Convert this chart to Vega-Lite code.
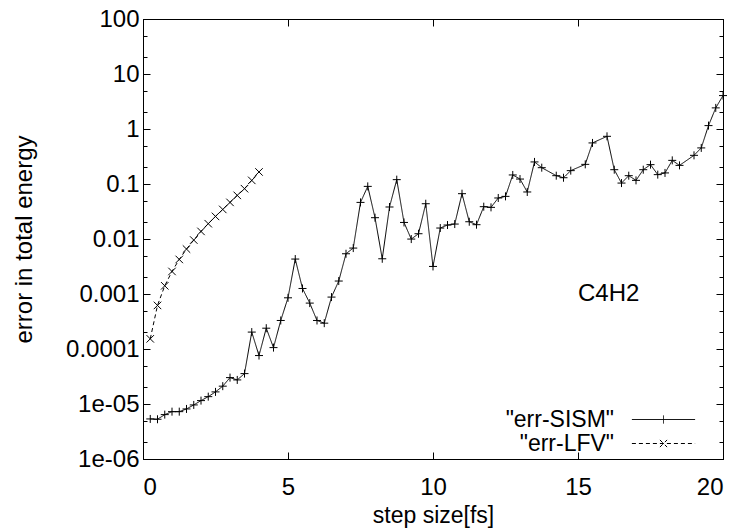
{
  "$schema": "https://vega.github.io/schema/vega-lite/v6.json",
  "width": 580,
  "height": 440,
  "autosize": {"type": "none"},
  "padding": {"left": 143, "top": 19, "right": 14, "bottom": 70},
  "config": {
    "view": {"stroke": "black", "strokeWidth": 1},
    "font": "Liberation Sans",
    "axis": {
      "grid": false,
      "domainColor": "black",
      "tickColor": "black",
      "labelColor": "black",
      "titleColor": "black",
      "labelFont": "Liberation Sans",
      "titleFont": "Liberation Sans",
      "labelFontSize": 24,
      "titleFontSize": 24,
      "titleFontWeight": "normal"
    }
  },
  "datasets": {
    "curves": [
      {"x": 0.25, "y": 5.35e-6, "series": "err-SISM"},
      {"x": 0.5, "y": 5.28e-6, "series": "err-SISM"},
      {"x": 0.75, "y": 6.41e-6, "series": "err-SISM"},
      {"x": 1.0, "y": 7.26e-6, "series": "err-SISM"},
      {"x": 1.25, "y": 7.26e-6, "series": "err-SISM"},
      {"x": 1.5, "y": 8.13e-6, "series": "err-SISM"},
      {"x": 1.75, "y": 9.62e-6, "series": "err-SISM"},
      {"x": 2.0, "y": 1.153e-5, "series": "err-SISM"},
      {"x": 2.25, "y": 1.36e-5, "series": "err-SISM"},
      {"x": 2.5, "y": 1.66e-5, "series": "err-SISM"},
      {"x": 2.75, "y": 2.11e-5, "series": "err-SISM"},
      {"x": 3.0, "y": 3.02e-5, "series": "err-SISM"},
      {"x": 3.25, "y": 2.74e-5, "series": "err-SISM"},
      {"x": 3.5, "y": 3.57e-5, "series": "err-SISM"},
      {"x": 3.75, "y": 2.03e-4, "series": "err-SISM"},
      {"x": 4.0, "y": 7.6e-5, "series": "err-SISM"},
      {"x": 4.25, "y": 2.39e-4, "series": "err-SISM"},
      {"x": 4.5, "y": 1.06e-4, "series": "err-SISM"},
      {"x": 4.75, "y": 3.3e-4, "series": "err-SISM"},
      {"x": 5.0, "y": 8.53e-4, "series": "err-SISM"},
      {"x": 5.25, "y": 4.32e-3, "series": "err-SISM"},
      {"x": 5.5, "y": 1.26e-3, "series": "err-SISM"},
      {"x": 5.75, "y": 6.83e-4, "series": "err-SISM"},
      {"x": 6.0, "y": 3.3e-4, "series": "err-SISM"},
      {"x": 6.25, "y": 2.95e-4, "series": "err-SISM"},
      {"x": 6.5, "y": 8.79e-4, "series": "err-SISM"},
      {"x": 6.75, "y": 1.72e-3, "series": "err-SISM"},
      {"x": 7.0, "y": 5.39e-3, "series": "err-SISM"},
      {"x": 7.25, "y": 6.84e-3, "series": "err-SISM"},
      {"x": 7.5, "y": 0.0463, "series": "err-SISM"},
      {"x": 7.75, "y": 0.0905, "series": "err-SISM"},
      {"x": 8.0, "y": 0.0244, "series": "err-SISM"},
      {"x": 8.25, "y": 4.37e-3, "series": "err-SISM"},
      {"x": 8.5, "y": 0.0382, "series": "err-SISM"},
      {"x": 8.75, "y": 0.12, "series": "err-SISM"},
      {"x": 9.0, "y": 0.02, "series": "err-SISM"},
      {"x": 9.25, "y": 9.97e-3, "series": "err-SISM"},
      {"x": 9.5, "y": 0.01247, "series": "err-SISM"},
      {"x": 9.75, "y": 0.0438, "series": "err-SISM"},
      {"x": 10.0, "y": 3.17e-3, "series": "err-SISM"},
      {"x": 10.25, "y": 0.01582, "series": "err-SISM"},
      {"x": 10.5, "y": 0.01795, "series": "err-SISM"},
      {"x": 10.75, "y": 0.0187, "series": "err-SISM"},
      {"x": 11.0, "y": 0.0667, "series": "err-SISM"},
      {"x": 11.25, "y": 0.0206, "series": "err-SISM"},
      {"x": 11.5, "y": 0.0182, "series": "err-SISM"},
      {"x": 11.75, "y": 0.0387, "series": "err-SISM"},
      {"x": 12.0, "y": 0.0376, "series": "err-SISM"},
      {"x": 12.25, "y": 0.0557, "series": "err-SISM"},
      {"x": 12.5, "y": 0.0596, "series": "err-SISM"},
      {"x": 12.75, "y": 0.146, "series": "err-SISM"},
      {"x": 13.0, "y": 0.123, "series": "err-SISM"},
      {"x": 13.25, "y": 0.0716, "series": "err-SISM"},
      {"x": 13.5, "y": 0.252, "series": "err-SISM"},
      {"x": 13.75, "y": 0.198, "series": "err-SISM"},
      {"x": 14.25, "y": 0.1417, "series": "err-SISM"},
      {"x": 14.5, "y": 0.13, "series": "err-SISM"},
      {"x": 14.75, "y": 0.175, "series": "err-SISM"},
      {"x": 15.25, "y": 0.2276, "series": "err-SISM"},
      {"x": 15.5, "y": 0.558, "series": "err-SISM"},
      {"x": 16.0, "y": 0.736, "series": "err-SISM"},
      {"x": 16.25, "y": 0.182, "series": "err-SISM"},
      {"x": 16.5, "y": 0.104, "series": "err-SISM"},
      {"x": 16.75, "y": 0.1417, "series": "err-SISM"},
      {"x": 17.0, "y": 0.1164, "series": "err-SISM"},
      {"x": 17.25, "y": 0.182, "series": "err-SISM"},
      {"x": 17.5, "y": 0.225, "series": "err-SISM"},
      {"x": 17.75, "y": 0.148, "series": "err-SISM"},
      {"x": 18.0, "y": 0.159, "series": "err-SISM"},
      {"x": 18.25, "y": 0.269, "series": "err-SISM"},
      {"x": 18.5, "y": 0.218, "series": "err-SISM"},
      {"x": 19.0, "y": 0.332, "series": "err-SISM"},
      {"x": 19.25, "y": 0.453, "series": "err-SISM"},
      {"x": 19.5, "y": 1.153, "series": "err-SISM"},
      {"x": 19.75, "y": 2.42, "series": "err-SISM"},
      {"x": 20.0, "y": 4.05, "series": "err-SISM"},
      {"x": 0.25, "y": 1.53e-4, "series": "err-LFV"},
      {"x": 0.5, "y": 6.2e-4, "series": "err-LFV"},
      {"x": 0.75, "y": 1.41e-3, "series": "err-LFV"},
      {"x": 1.0, "y": 2.57e-3, "series": "err-LFV"},
      {"x": 1.25, "y": 4.25e-3, "series": "err-LFV"},
      {"x": 1.5, "y": 6.56e-3, "series": "err-LFV"},
      {"x": 1.75, "y": 9.57e-3, "series": "err-LFV"},
      {"x": 2.0, "y": 0.01374, "series": "err-LFV"},
      {"x": 2.25, "y": 0.01897, "series": "err-LFV"},
      {"x": 2.5, "y": 0.02575, "series": "err-LFV"},
      {"x": 2.75, "y": 0.0345, "series": "err-LFV"},
      {"x": 3.0, "y": 0.0463, "series": "err-LFV"},
      {"x": 3.25, "y": 0.0621, "series": "err-LFV"},
      {"x": 3.5, "y": 0.0822, "series": "err-LFV"},
      {"x": 3.75, "y": 0.1164, "series": "err-LFV"},
      {"x": 4.0, "y": 0.1656, "series": "err-LFV"}
    ],
    "labels": [
      {"x": 15, "y": 0.001, "text": "C4H2"}
    ]
  },
  "layer": [
    {
      "data": {"name": "curves"},
      "mark": {"type": "line", "color": "black", "strokeWidth": 1},
      "encoding": {
        "x": {
          "field": "x", "type": "quantitative",
          "scale": {"domain": [0, 20], "nice": false},
          "axis": {
            "orient": "bottom",
            "values": [0, 5, 10, 15, 20],
            "format": "d",
            "tickSize": -7,
            "labelPadding": 23,
            "title": "step size[fs]",
            "titleFontSize": 23,
            "titlePadding": 5
          }
        },
        "y": {
          "field": "y", "type": "quantitative",
          "scale": {"type": "log", "domain": [1e-6, 100], "nice": false},
          "axis": {
            "orient": "left",
            "values": [1e-6, 2e-6, 5e-6, 1e-5, 2e-5, 5e-5, 0.0001, 0.0002, 0.0005, 0.001, 0.002, 0.005, 0.01, 0.02, 0.05, 0.1, 0.2, 0.5, 1, 2, 5, 10, 20, 50, 100],
            "labelExpr": "datum.value==100?'100':datum.value==10?'10':datum.value==1?'1':datum.value==0.1?'0.1':datum.value==0.01?'0.01':datum.value==0.001?'0.001':datum.value==0.0001?'0.0001':datum.value==0.00001?'1e-05':datum.value==0.000001?'1e-06':''",
            "tickSize": {"condition": {"test": "abs(log(datum.value)/LN10 - round(log(datum.value)/LN10)) < 0.01", "value": -7}, "value": -4},
            "labelPadding": 11,
            "labelOverlap": false,
            "title": "error in total energy",
            "titlePadding": 29
          }
        },
        "strokeDash": {
          "field": "series", "type": "nominal",
          "scale": {"domain": ["err-SISM", "err-LFV"], "range": [[1, 0], [4, 3]]},
          "legend": {
            "orient": "none",
            "legendX": 509,
            "legendY": 389,
            "title": null,
            "padding": 0,
            "labelFont": "Liberation Sans",
            "labelFontSize": 23,
            "labelColor": "black",
            "labelAlign": "right",
            "labelOffset": -61,
            "labelLimit": 300,
            "symbolSize": 64,
            "symbolStrokeColor": "black",
            "symbolStrokeWidth": 1,
            "symbolFillColor": "transparent",
            "rowPadding": 0,
            "labelExpr": "'\"' + datum.label + '\"'",
            "encode": {
              "symbols": {
                "update": {
                  "shape": {"signal": "datum.value === 'err-SISM' ? 'M-7.9,0H7.9M0,-1V1' : 'M-7.9,0H7.9M-0.9,-0.9L0.9,0.9M-0.9,0.9L0.9,-0.9'"},
                  "stroke": {"value": "black"},
                  "fill": {"value": "transparent"}
                }
              }
            }
          }
        }
      }
    },
    {
      "data": {"name": "curves"},
      "transform": [{"filter": "datum.series === 'err-SISM'"}],
      "mark": {"type": "point", "shape": "M-1,0H1M0,-1V1", "filled": false, "color": "black", "strokeWidth": 1, "opacity": 1, "size": 64},
      "encoding": {
        "x": {
          "field": "x", "type": "quantitative",
          "scale": {"domain": [0, 20], "nice": false},
          "axis": {"orient": "top", "values": [0, 5, 10, 15, 20], "tickSize": -7, "labels": false, "title": null}
        },
        "y": {
          "field": "y", "type": "quantitative",
          "scale": {"type": "log", "domain": [1e-6, 100], "nice": false},
          "axis": {
            "orient": "right",
            "values": [1e-6, 2e-6, 5e-6, 1e-5, 2e-5, 5e-5, 0.0001, 0.0002, 0.0005, 0.001, 0.002, 0.005, 0.01, 0.02, 0.05, 0.1, 0.2, 0.5, 1, 2, 5, 10, 20, 50, 100],
            "tickSize": {"condition": {"test": "abs(log(datum.value)/LN10 - round(log(datum.value)/LN10)) < 0.01", "value": -7}, "value": -4},
            "labels": false,
            "title": null
          }
        }
      }
    },
    {
      "data": {"name": "curves"},
      "transform": [{"filter": "datum.series === 'err-LFV'"}],
      "mark": {"type": "point", "shape": "M-1,-1L1,1M-1,1L1,-1", "filled": false, "color": "black", "strokeWidth": 1, "opacity": 1, "size": 56},
      "encoding": {
        "x": {"field": "x", "type": "quantitative", "scale": {"domain": [0, 20], "nice": false}, "axis": null},
        "y": {"field": "y", "type": "quantitative", "scale": {"type": "log", "domain": [1e-6, 100], "nice": false}, "axis": null}
      }
    },
    {
      "data": {"name": "labels"},
      "mark": {"type": "text", "align": "left", "baseline": "middle", "font": "Liberation Sans", "fontSize": 24, "color": "black"},
      "encoding": {
        "x": {"field": "x", "type": "quantitative", "scale": {"domain": [0, 20], "nice": false}, "axis": null},
        "y": {"field": "y", "type": "quantitative", "scale": {"type": "log", "domain": [1e-6, 100], "nice": false}, "axis": null},
        "text": {"field": "text"}
      }
    }
  ],
  "resolve": {"axis": {"x": "independent", "y": "independent"}}
}
